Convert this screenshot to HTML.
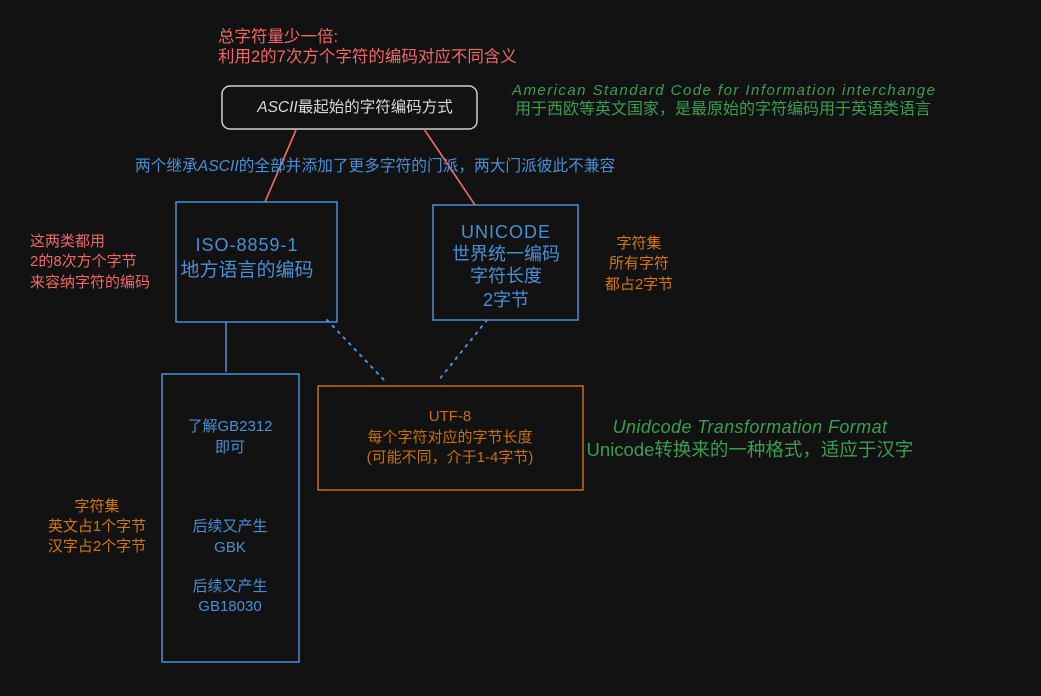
<!DOCTYPE html>
<html><head><meta charset="utf-8"><style>
html,body{margin:0;padding:0;background:#121212;}
svg{display:block;}
text{font-family:"Liberation Sans","Noto Sans CJK SC",sans-serif;}
</style></head><body>
<svg width="1041" height="696" viewBox="0 0 1041 696" xmlns="http://www.w3.org/2000/svg">
<rect width="1041" height="696" fill="#121212"/>
<g fill="#f06868" font-size="16.5">
<text x="218" y="42">总字符量少一倍:</text>
<text x="218" y="62">利用2的7次方个字符的编码对应不同含义</text>
</g>
<rect x="222" y="86" width="255" height="43" rx="8" fill="none" stroke="#cfcfcf" stroke-width="1.5"/>
<text x="355" y="112" text-anchor="middle" fill="#d8d8d8" font-size="15.5"><tspan font-style="italic">ASCII</tspan>最起始的字符编码方式</text>
<g fill="#3a9e52" font-size="15">
<text x="512" y="95" font-style="italic" letter-spacing="1.45">American Standard Code for Information  interchange</text>
<text x="515" y="114" font-size="16">用于西欧等英文国家，是最原始的字符编码用于英语类语言</text>
</g>
<line x1="296" y1="130" x2="265" y2="202" stroke="#f06868" stroke-width="1.6"/>
<line x1="424" y1="129" x2="475" y2="205" stroke="#f06868" stroke-width="1.6"/>
<text x="135" y="171" fill="#4a8fd6" font-size="15.7">两个继承<tspan font-style="italic">ASCII</tspan>的全部并添加了更多字符的门派，两大门派彼此不兼容</text>
<rect x="176" y="202" width="161" height="120" fill="none" stroke="#4a8fd6" stroke-width="1.5"/>
<g fill="#4a8fd6" font-size="18" text-anchor="middle">
<text x="247" y="251" letter-spacing="1">ISO-8859-1</text>
<text x="247" y="276" font-size="19">地方语言的编码</text>
</g>
<rect x="433" y="205" width="145" height="115" fill="none" stroke="#4a8fd6" stroke-width="1.5"/>
<g fill="#4a8fd6" font-size="18" text-anchor="middle">
<text x="506" y="238" letter-spacing="1">UNICODE</text>
<text x="506" y="260">世界统一编码</text>
<text x="506" y="282">字符长度</text>
<text x="506" y="306">2字节</text>
</g>
<g fill="#f06868" font-size="15">
<text x="30" y="246">这两类都用</text>
<text x="30" y="266">2的8次方个字节</text>
<text x="30" y="287">来容纳字符的编码</text>
</g>
<g fill="#d07810" font-size="15" text-anchor="middle">
<text x="639" y="248">字符集</text>
<text x="639" y="268">所有字符</text>
<text x="639" y="289">都占2字节</text>
</g>
<line x1="226" y1="322" x2="226" y2="372" stroke="#4a8fd6" stroke-width="1.5"/>
<rect x="162" y="374" width="137" height="288" fill="none" stroke="#4a8fd6" stroke-width="1.5"/>
<g fill="#4a8fd6" font-size="15" text-anchor="middle">
<text x="230" y="431">了解GB2312</text>
<text x="230" y="452">即可</text>
<text x="230" y="531">后续又产生</text>
<text x="230" y="552">GBK</text>
<text x="230" y="591">后续又产生</text>
<text x="230" y="611">GB18030</text>
</g>
<line x1="327" y1="320" x2="385" y2="381" stroke="#4a8fd6" stroke-width="2" stroke-dasharray="2,6" stroke-linecap="round"/>
<line x1="487" y1="320" x2="438" y2="381" stroke="#4a8fd6" stroke-width="2" stroke-dasharray="2,6" stroke-linecap="round"/>
<rect x="318" y="386" width="265" height="104" fill="none" stroke="#c8700a" stroke-width="1.5"/>
<g fill="#c8700a" font-size="15" text-anchor="middle">
<text x="450" y="421">UTF-8</text>
<text x="450" y="442">每个字符对应的字节长度</text>
<text x="450" y="462">(可能不同，介于1-4字节)</text>
</g>
<g fill="#3a9e52" font-size="18" text-anchor="middle">
<text x="750" y="433" font-style="italic" letter-spacing="0.4">Unidcode Transformation Format</text>
<text x="750" y="456" font-size="18.5">Unicode转换来的一种格式，适应于汉字</text>
</g>
<g fill="#d07810" font-size="15" text-anchor="middle">
<text x="97" y="511">字符集</text>
<text x="97" y="531">英文占1个字节</text>
<text x="97" y="551">汉字占2个字节</text>
</g>
</svg>
</body></html>
